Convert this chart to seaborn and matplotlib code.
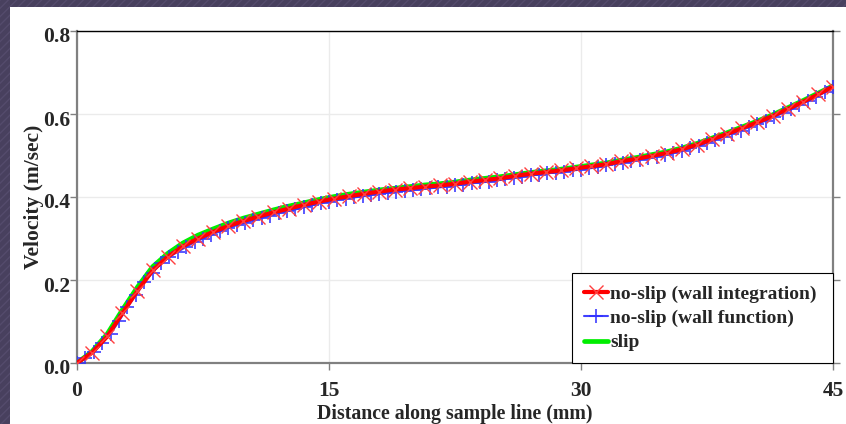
import numpy as np
import matplotlib
matplotlib.use("Agg")
import matplotlib.pyplot as plt
import matplotlib.transforms as mtrans
from matplotlib.patches import Rectangle
import seaborn as sns

# velocity along the sample line
# red: no-slip (wall integration), sampled every 0.9 mm
wall_integration = [0.000, 0.025, 0.064, 0.120, 0.174, 0.223, 0.256, 0.281, 0.300, 0.316,
                    0.330, 0.342, 0.353, 0.363, 0.372, 0.381, 0.389, 0.396, 0.402, 0.408,
                    0.413, 0.418, 0.421, 0.425, 0.428, 0.432, 0.437, 0.441, 0.445, 0.451,
                    0.456, 0.460, 0.464, 0.469, 0.474, 0.479, 0.486, 0.492, 0.499, 0.506,
                    0.515, 0.526, 0.539, 0.552, 0.566, 0.580, 0.595, 0.612, 0.629, 0.647,
                    0.666]
# blue: no-slip (wall function), sampled every 0.5 mm
wall_function = [0.000, 0.012, 0.026, 0.048, 0.071, 0.101, 0.134, 0.164, 0.194, 0.218,
                 0.240, 0.256, 0.268, 0.280, 0.291, 0.300, 0.309, 0.317, 0.325, 0.332,
                 0.338, 0.344, 0.350, 0.355, 0.361, 0.366, 0.370, 0.375, 0.380, 0.385,
                 0.389, 0.393, 0.396, 0.399, 0.402, 0.405, 0.408, 0.410, 0.413, 0.415,
                 0.417, 0.419, 0.421, 0.423, 0.425, 0.428, 0.430, 0.433, 0.435, 0.437,
                 0.440, 0.443, 0.446, 0.449, 0.452, 0.454, 0.457, 0.459, 0.461, 0.464,
                 0.466, 0.469, 0.472, 0.476, 0.479, 0.483, 0.486, 0.490, 0.493, 0.497,
                 0.501, 0.506, 0.511, 0.517, 0.523, 0.530, 0.538, 0.545, 0.553, 0.560,
                 0.568, 0.576, 0.584, 0.593, 0.602, 0.611, 0.621, 0.631, 0.641, 0.652,
                 0.664]
# green: slip, sampled every 0.9 mm
slip = [0.000, 0.028, 0.070, 0.128, 0.183, 0.232, 0.264, 0.289, 0.308, 0.323,
        0.337, 0.349, 0.359, 0.369, 0.378, 0.386, 0.394, 0.401, 0.407, 0.412,
        0.417, 0.421, 0.425, 0.429, 0.432, 0.436, 0.441, 0.445, 0.449, 0.454,
        0.459, 0.463, 0.467, 0.472, 0.477, 0.482, 0.489, 0.495, 0.502, 0.509,
        0.518, 0.529, 0.542, 0.555, 0.569, 0.583, 0.598, 0.615, 0.632, 0.650,
        0.668]

x_wi = np.linspace(0, 45, len(wall_integration))
x_wf = np.linspace(0, 45, len(wall_function))
x_slip = np.linspace(0, 45, len(slip))

x_ticks = [0, 15, 30, 45]
y_ticks = [0.0, 0.2, 0.4, 0.6, 0.8]

sns.set_style("white")
plt.rcParams['font.family'] = ['Liberation Serif', 'DejaVu Serif']
plt.rcParams['font.weight'] = 'bold'

fig = plt.figure(figsize=(8.46, 4.24), dpi=100)
fig.patch.set_facecolor('#48405e')
fig.patches.append(Rectangle((0, 0), 1, 1, transform=fig.transFigure, facecolor='#48405e',
                             edgecolor='#544b6c', hatch='////', lw=0, zorder=-2))
fig.patches.append(Rectangle((10 / 846, 0), 1, 1 - 7 / 424, transform=fig.transFigure,
                             facecolor='white', edgecolor='none', zorder=-1))

ax = fig.add_axes([77 / 846, 1 - 363 / 424, 756 / 846, 332 / 424])
ax.set_facecolor('none')

sns.lineplot(x=x_slip, y=slip, ax=ax, color='#00ee00', lw=3.4, label='slip', zorder=2)
sns.lineplot(x=x_wf, y=wall_function, ax=ax, color='#1010ff', lw=1.5, marker='+',
             markersize=10, markeredgewidth=1.4, markeredgecolor='#3030ff', alpha=0.8,
             label='no-slip (wall function)', zorder=3)
sns.lineplot(x=x_wi, y=wall_integration, ax=ax, color='#ff0000', lw=3.0, marker='x',
             markersize=10.5, markeredgewidth=1.0, markeredgecolor='#ff4040',
             label='no-slip (wall integration)', zorder=4)

ax.set_xlim(0, 45)
ax.set_ylim(0, 0.8)
ax.set_xticks(x_ticks)
ax.set_yticks(y_ticks)
ax.set_xticklabels([str(t) for t in x_ticks])
ax.set_yticklabels([f"{t:.1f}" for t in y_ticks])
ax.grid(True, color='#ebebeb', lw=1)
ax.tick_params(axis='both', labelsize=15.5, length=5, width=1, color='#808080',
               direction='out')
ax.tick_params(axis='y', right=True, left=True, labelright=False, pad=0)
ax.tick_params(axis='x', bottom=True, pad=8)

# y tick labels sit a little below their ticks in the original
shift = mtrans.ScaledTranslation(0, -4 / 100, fig.dpi_scale_trans)
for lab in ax.get_yticklabels():
    lab.set_transform(lab.get_transform() + shift)

for side in ['left', 'right', 'bottom']:
    ax.spines[side].set_color('#808080')
    ax.spines[side].set_linewidth(1.6)
ax.spines['top'].set_color('black')
ax.spines['top'].set_linewidth(1.0)

ax.set_xlabel('Distance along sample line (mm)', fontsize=14.3, fontweight='bold', labelpad=2)
ax.set_ylabel('Velocity (m/sec)', fontsize=15.5, fontweight='bold', labelpad=-1)

handles, labels = ax.get_legend_handles_labels()
order = [2, 1, 0]
leg = ax.legend([handles[i] for i in order], [labels[i] for i in order],
                loc='lower left', bbox_to_anchor=(0.6548, 0.0, 0.3452, 0.28),
                mode='expand', fontsize=14,
                frameon=True, fancybox=False, edgecolor='black', framealpha=1,
                handlelength=1.25, handletextpad=0.1, borderpad=0.6,
                labelspacing=0.34, borderaxespad=0)
leg.get_frame().set_linewidth(0.8)
for t in leg.get_texts():
    t.set_fontweight('bold')

fig.savefig('out.png', dpi=100, facecolor=fig.get_facecolor())
